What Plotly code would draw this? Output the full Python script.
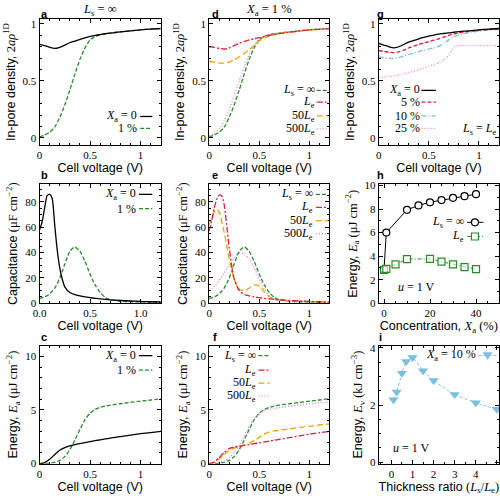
import plotly.graph_objects as go
from plotly.subplots import make_subplots

# ---------------- data ----------------
V = [0, 0.05, 0.1, 0.15, 0.2, 0.25, 0.3, 0.35, 0.4, 0.45, 0.5, 0.55, 0.6, 0.65, 0.7, 0.75, 0.8, 0.9, 1.0, 1.1, 1.2]

dens_a_x0 = [0.82, 0.81, 0.795, 0.785, 0.795, 0.815, 0.835, 0.85, 0.865, 0.878, 0.89, 0.9, 0.907, 0.914, 0.92, 0.925, 0.93, 0.94, 0.948, 0.955, 0.96]
dens_a_x1 = [0.01, 0.025, 0.05, 0.095, 0.18, 0.29, 0.42, 0.56, 0.69, 0.79, 0.86, 0.89, 0.905, 0.914, 0.92, 0.925, 0.93, 0.94, 0.948, 0.955, 0.96]
dens_d_le = [0.80, 0.795, 0.785, 0.78, 0.79, 0.81, 0.83, 0.845, 0.86, 0.87, 0.88, 0.89, 0.9, 0.908, 0.915, 0.922, 0.928, 0.938, 0.947, 0.953, 0.958]
dens_d_50 = [0.675, 0.665, 0.657, 0.657, 0.665, 0.685, 0.71, 0.74, 0.775, 0.81, 0.85, 0.875, 0.893, 0.905, 0.914, 0.921, 0.928, 0.938, 0.947, 0.953, 0.958]
dens_d_500 = [0.02, 0.04, 0.08, 0.15, 0.25, 0.37, 0.5, 0.62, 0.73, 0.81, 0.865, 0.89, 0.905, 0.914, 0.92, 0.925, 0.93, 0.94, 0.948, 0.955, 0.96]
dens_g_0 = [0.83, 0.815, 0.80, 0.79, 0.80, 0.82, 0.84, 0.855, 0.87, 0.882, 0.893, 0.902, 0.91, 0.916, 0.922, 0.927, 0.932, 0.94, 0.948, 0.955, 0.96]
dens_g_5 = [0.765, 0.76, 0.752, 0.748, 0.755, 0.77, 0.79, 0.805, 0.82, 0.833, 0.845, 0.858, 0.87, 0.885, 0.9, 0.913, 0.922, 0.935, 0.945, 0.952, 0.957]
dens_g_10 = [0.71, 0.705, 0.70, 0.697, 0.705, 0.718, 0.732, 0.745, 0.758, 0.77, 0.78, 0.79, 0.805, 0.83, 0.86, 0.89, 0.905, 0.925, 0.937, 0.946, 0.953]
dens_g_25 = [0.53, 0.535, 0.54, 0.545, 0.552, 0.562, 0.574, 0.587, 0.6, 0.614, 0.628, 0.643, 0.66, 0.685, 0.73, 0.795, 0.81, 0.81, 0.81, 0.81, 0.81]

Vc = [0, 0.025, 0.05, 0.075, 0.1, 0.125, 0.15, 0.175, 0.2, 0.225, 0.25, 0.3, 0.35, 0.4, 0.45, 0.5, 0.55, 0.6, 0.65, 0.7, 0.8, 0.9, 1.0, 1.1, 1.2]
cap_x0 = [58, 64, 75, 85, 86, 83, 62, 42, 28, 19, 13, 8.5, 6.8, 5.8, 5.0, 4.4, 3.9, 3.4, 3.0, 2.7, 2.2, 1.8, 1.5, 1.2, 1.0]
cap_x1 = [4, 4.3, 5, 6, 7.5, 9.5, 12, 15.5, 20, 25, 31, 41, 44.5, 41, 33, 23, 14.5, 8.5, 4.5, 2.8, 1.6, 1.2, 1.0, 0.9, 0.8]
cap_le = [57, 65, 75, 82, 85.5, 85, 78, 62, 44, 30, 19, 10, 7, 5.8, 5, 4.4, 3.9, 3.4, 3.0, 2.7, 2.2, 1.8, 1.5, 1.2, 1.0]
cap_50 = [62, 67, 72, 74, 72, 65, 56, 46, 35, 27, 19, 11, 10, 12, 14.5, 13.5, 9, 5, 3.2, 2.5, 2.0, 1.6, 1.3, 1.1, 0.9]
cap_500 = [10, 11.5, 13, 15.5, 18, 21, 24, 27, 30, 33, 36, 39.5, 39, 35, 28, 19, 11, 6, 3.5, 2.5, 1.6, 1.2, 1.0, 0.9, 0.8]

en_x0 = [0, 0.1, 0.4, 0.85, 1.25, 1.5, 1.65, 1.77, 1.87, 1.96, 2.05, 2.14, 2.22, 2.3, 2.38, 2.45, 2.52, 2.66, 2.79, 2.9, 3.0]
en_x1 = [0, 0.01, 0.04, 0.12, 0.3, 0.65, 1.3, 2.2, 3.2, 4.1, 4.7, 5.05, 5.25, 5.37, 5.45, 5.52, 5.58, 5.7, 5.82, 5.93, 6.05]
en_le = [0, 0.15, 0.55, 1.05, 1.4, 1.55, 1.62, 1.7, 1.78, 1.86, 1.94, 2.02, 2.1, 2.18, 2.26, 2.34, 2.42, 2.58, 2.74, 2.88, 3.0]
en_50 = [0, 0.12, 0.45, 0.85, 1.2, 1.45, 1.6, 1.75, 1.92, 2.15, 2.45, 2.75, 2.95, 3.05, 3.12, 3.18, 3.24, 3.36, 3.48, 3.6, 3.7]
en_500 = [0, 0.03, 0.1, 0.25, 0.55, 1.0, 1.7, 2.6, 3.5, 4.2, 4.6, 4.9, 5.05, 5.15, 5.22, 5.28, 5.34, 5.46, 5.57, 5.67, 5.76]

conc_inf = [0, 1, 10, 15, 20, 25, 30, 35, 40]
E_conc_inf = [2.85, 6.0, 7.93, 8.3, 8.57, 8.76, 8.95, 9.09, 9.26]
conc_le = [0, 1, 5, 10, 20, 25, 30, 35, 40]
E_conc_le = [2.84, 2.92, 3.3, 3.75, 3.77, 3.53, 3.3, 3.06, 2.89]

ratio = [0.1, 0.25, 0.5, 0.7, 1.0, 1.5, 2, 3, 4, 5]
E_vol = [2.19, 2.46, 3.11, 3.52, 3.66, 3.2, 2.86, 2.37, 2.08, 1.85]

# ---------------- styles ----------------
BLACK = "#000000"
GREEN = "#2a8a2a"
RED = "#dc1e3c"
ORANGE = "#f0a30a"
PINK = "#e080e0"
CYAN = "#78c0dc"
SERIF = "Liberation Serif"
SANS = "Liberation Sans"

D_GREEN = "4px,2px"
D_RED = "6px,2px,2px,2px"
D_ORANGE = "6px,3px"
D_PINK = "1px,2px"
D_CYAN = "5px,2px,1px,2px"
D_RED5 = "4px,2px"

W, H = 500, 498
cols_px = [(33, 156), (205, 327), (377, 499)]
rows_px = [(14.7, 143), (183.3, 305), (348.3, 469)]

fig = make_subplots(rows=3, cols=3)

def idx(r, c):
    return (r - 1) * 3 + c

def xr(i):
    return "x" if i == 1 else f"x{i}"

def yr(i):
    return "y" if i == 1 else f"y{i}"

def line(x, y, color, dash, r, c, width=1.3):
    fig.add_trace(go.Scatter(x=x, y=y, mode="lines",
                             line=dict(color=color, dash=dash, width=width, shape="spline", smoothing=0.6),
                             showlegend=False, hoverinfo="skip"), row=r, col=c)

# a
line(V, dens_a_x1, GREEN, D_GREEN, 1, 1)
line(V, dens_a_x0, BLACK, "solid", 1, 1)
# d
line(V, dens_a_x1, GREEN, D_GREEN, 1, 2)
line(V, dens_d_500, PINK, D_PINK, 1, 2)
line(V, dens_d_50, ORANGE, D_ORANGE, 1, 2)
line(V, dens_d_le, RED, D_RED, 1, 2)
# g
line(V, dens_g_25, PINK, D_PINK, 1, 3)
line(V, dens_g_10, CYAN, D_CYAN, 1, 3)
line(V, dens_g_5, RED, D_RED5, 1, 3)
line(V, dens_g_0, BLACK, "solid", 1, 3)
# b
line(Vc, cap_x1, GREEN, D_GREEN, 2, 1)
line(Vc, cap_x0, BLACK, "solid", 2, 1)
# e
line(Vc, cap_x1, GREEN, D_GREEN, 2, 2)
line(Vc, cap_500, PINK, D_PINK, 2, 2)
line(Vc, cap_50, ORANGE, D_ORANGE, 2, 2)
line(Vc, cap_le, RED, D_RED, 2, 2)
# c
line(V, en_x1, GREEN, D_GREEN, 3, 1)
line(V, en_x0, BLACK, "solid", 3, 1)
# f
line(V, en_x1, GREEN, D_GREEN, 3, 2)
line(V, en_500, PINK, D_PINK, 3, 2)
line(V, en_50, ORANGE, D_ORANGE, 3, 2)
line(V, en_le, RED, D_RED, 3, 2)
# h
fig.add_trace(go.Scatter(x=conc_inf, y=E_conc_inf, mode="lines+markers",
                         line=dict(color=BLACK, width=1),
                         marker=dict(symbol="circle", size=7, color="white", line=dict(color=BLACK, width=1.2)),
                         showlegend=False, hoverinfo="skip"), row=2, col=3)
fig.add_trace(go.Scatter(x=conc_le, y=E_conc_le, mode="lines+markers",
                         line=dict(color=GREEN, width=1, dash="4px,2px,1px,2px"),
                         marker=dict(symbol="square", size=7, color="rgba(255,255,255,0.6)", line=dict(color=GREEN, width=1.2)),
                         showlegend=False, hoverinfo="skip"), row=2, col=3)
# i
fig.add_trace(go.Scatter(x=ratio, y=E_vol, mode="lines+markers",
                         line=dict(color=CYAN, width=1, dash="3px,2px", shape="spline", smoothing=0.5),
                         marker=dict(symbol="triangle-down", size=9, color=CYAN),
                         showlegend=False, hoverinfo="skip"), row=3, col=3)

# ---------------- axes ----------------
tickfont = dict(family=SERIF, size=11, color="black")
titlefont = dict(family=SANS, size=12.5, color="black")

def style_axes(r, c, xrange, xtickvals, xticktext, xminor, yrange, ytickvals, yticktext, yminor, xtitle, ytitle, ystand=4):
    x0, x1 = cols_px[c - 1]
    y0, y1 = rows_px[r - 1]
    common = dict(showline=True, linecolor="black", linewidth=1, mirror="ticks", ticks="inside",
                  ticklen=4, tickwidth=1, tickcolor="black", showgrid=False, zeroline=False,
                  tickfont=tickfont)
    fig.update_xaxes(domain=[x0 / W, x1 / W], range=xrange, tickvals=xtickvals, ticktext=xticktext,
                     minor=dict(ticks="inside", ticklen=2, dtick=xminor, tickcolor="black", showgrid=False),
                     title=dict(text=xtitle, font=titlefont, standoff=2), row=r, col=c, **common)
    fig.update_yaxes(domain=[1 - y1 / H, 1 - y0 / H], range=yrange, tickvals=ytickvals, ticktext=yticktext,
                     minor=dict(ticks="inside", ticklen=2, dtick=yminor, tickcolor="black", showgrid=False),
                     title=dict(text=ytitle, font=titlefont, standoff=ystand), row=r, col=c, **common)

CV = "Cell voltage (V)"
DENS = "In-pore density, <span style='font-family:Liberation Serif'>2<i>aρ</i><sup>1D</sup></span>"
CAP = "Capacitance <span style='font-family:Liberation Serif'>(μF cm<sup>−2</sup>)</span>"
ENA = "Energy, <span style='font-family:Liberation Serif'><i>E</i><sub>a</sub> (μJ cm<sup>−2</sup>)</span>"
ENV = "Energy, <span style='font-family:Liberation Serif'><i>E</i><sub>v</sub> (kJ cm<sup>−3</sup>)</span>"

vt = [0, 0.5, 1]
vtt = ["0", "0.5", "1"]
for c in (1, 2, 3):
    style_axes(1, c, [0, 1.2], vt, vtt, 0.1, [-0.06, 1.04], [0, 0.5, 1], ["0", "0.5", "1"], 0.1, CV, DENS)
style_axes(2, 1, [0, 1.2], vt, ["0.0", "0.5", "1.0"], 0.1, [0, 94], [0, 20, 40, 60, 80], None, 5, CV, CAP)
style_axes(2, 2, [0, 1.2], vt, vtt, 0.1, [0, 94], [0, 20, 40, 60, 80], None, 5, CV, CAP)
style_axes(3, 1, [0, 1.2], vt, vtt, 0.1, [0, 11], [0, 5, 10], None, 1, CV, ENA)
style_axes(3, 2, [0, 1.2], vt, vtt, 0.1, [0, 11], [0, 5, 10], None, 1, CV, ENA)
style_axes(2, 3, [-2.3, 50], [0, 20, 40], None, 5, [0, 10.1], [0, 2, 4, 6, 8, 10], None, 1,
           "Concentration, <span style='font-family:Liberation Serif'><i>X</i><sub>a</sub> (%)</span>", ENA)
style_axes(3, 3, [-0.6, 5.1], [0, 1, 2, 3, 4, 5], None, 0.5, [-0.05, 4.08], [0, 2, 4], None, 0.5,
           "Thickness ratio <span style='font-family:Liberation Serif'>(<i>L</i><sub>s</sub>/<i>L</i><sub>e</sub>)</span>", ENV)

# ---------------- annotations / legends ----------------
annotations = []
shapes = []

def text(i, x, y, s, xanchor="right", size=12, family=SERIF, yref_paper=False):
    annotations.append(dict(x=x, y=y, xref=xr(i) + " domain",
                            yref="paper" if yref_paper else yr(i) + " domain",
                            text=s, showarrow=False, xanchor=xanchor, yanchor="middle",
                            borderpad=0,
                            font=dict(family=family, size=size, color="black")))

def legend(i, entries, xt, lx0, lx1):
    for s, y, color, dash, width in entries:
        text(i, xt, y, s)
        shapes.append(dict(type="line", xref=xr(i) + " domain", yref=yr(i) + " domain",
                           x0=lx0, x1=lx1, y0=y, y1=y, line=dict(color=color, dash=dash, width=width)))

XA0 = "<i>X</i><sub>a</sub> = 0"
LSI = "<i>L</i><sub>s</sub> = ∞"
LE = "<i>L</i><sub>e</sub>"

# a
legend(idx(1, 1), [(XA0, 0.226, BLACK, "solid", 1.3), ("1 %", 0.132, GREEN, D_GREEN, 1.3)], 0.815, 0.83, 0.93)
# b
legend(idx(2, 1), [(XA0, 0.915, BLACK, "solid", 1.3), ("1 %", 0.795, GREEN, D_GREEN, 1.3)], 0.805, 0.82, 0.93)
# c
legend(idx(3, 1), [(XA0, 0.915, BLACK, "solid", 1.3), ("1 %", 0.793, GREEN, D_GREEN, 1.3)], 0.805, 0.82, 0.93)
# d
legend(idx(1, 2), [(LSI, 0.434, GREEN, D_GREEN, 1.3), (LE, 0.34, RED, D_RED, 1.3),
                   ("50" + LE, 0.231, ORANGE, D_ORANGE, 1.3), ("500" + LE, 0.127, PINK, D_PINK, 1.3)], 0.885, 0.895, 0.985)
# e
legend(idx(2, 2), [(LSI, 0.915, GREEN, D_GREEN, 1.3), (LE, 0.805, RED, D_RED, 1.3),
                   ("50" + LE, 0.695, ORANGE, D_ORANGE, 1.3), ("500" + LE, 0.585, PINK, D_PINK, 1.3)], 0.875, 0.888, 0.99)
# f
legend(idx(3, 2), [(LSI, 0.915, GREEN, D_GREEN, 1.3), (LE, 0.793, RED, D_RED, 1.3),
                   ("50" + LE, 0.682, ORANGE, D_ORANGE, 1.3), ("500" + LE, 0.572, PINK, D_PINK, 1.3)], 0.40, 0.41, 0.505)
# g
legend(idx(1, 3), [(XA0, 0.434, BLACK, "solid", 1.3), ("5 %", 0.34, RED, D_RED5, 1.3),
                   ("10 %", 0.231, CYAN, D_CYAN, 1.3), ("25 %", 0.132, PINK, D_PINK, 1.3)], 0.348, 0.355, 0.475)
text(idx(1, 3), 0.83, 0.13, "<i>L</i><sub>s</sub> = <i>L</i><sub>e</sub>", xanchor="center")

# h legend with markers
ih = idx(2, 3)
legend(ih, [(LSI, 0.68, BLACK, "solid", 1.0), (LE, 0.561, GREEN, "4px,2px,1px,2px", 1.0)], 0.72, 0.735, 0.87)
for y, sym, col in [(0.68, "circle", BLACK), (0.561, "rect", GREEN)]:
    shapes.append(dict(type=sym, xref=xr(ih) + " domain", yref=yr(ih) + " domain",
                       xsizemode="pixel", ysizemode="pixel", xanchor=0.80, yanchor=y,
                       x0=-3.5, x1=3.5, y0=-3.5, y1=3.5, fillcolor="white",
                       line=dict(color=col, width=1.2)))
text(ih, 0.31, 0.137, "<i>u</i> = 1 V", xanchor="center")

# i legend
ii = idx(3, 3)
legend(ii, [("<i>X</i><sub>a</sub> = 10 %", 0.917, CYAN, "3px,2px", 1.0)], 0.816, 0.83, 0.99)
shapes.append(dict(type="path", xref=xr(ii) + " domain", yref=yr(ii) + " domain",
                   xsizemode="pixel", ysizemode="pixel", xanchor=0.905, yanchor=0.917,
                   path="M -4.5 3 L 4.5 3 L 0 -4 Z", fillcolor=CYAN, line=dict(color=CYAN, width=0.5)))
text(ii, 0.27, 0.13, "<i>u</i> = 1 V", xanchor="center")

# panel letters
letters = {(1, 1): "a", (2, 1): "b", (3, 1): "c", (1, 2): "d", (2, 2): "e", (3, 2): "f",
           (1, 3): "g", (2, 3): "h", (3, 3): "i"}
letter_x = {1: 0.04, 2: 0.05, 3: 0.015}
letter_ypx = {1: 9.5, 2: 174, 3: 339.5}
for (r, c), s in letters.items():
    text(idx(r, c), letter_x[c], 1 - letter_ypx[r] / H, "<b>" + s + "</b>", xanchor="center",
         size=11, family=SANS, yref_paper=True)

# panel titles
text(idx(1, 1), 0.5, 1 - 5.5 / H, LSI, xanchor="center", size=12.5, yref_paper=True)
text(idx(1, 2), 0.5, 1 - 5.5 / H, "<i>X</i><sub>a</sub> = 1 %", xanchor="center", size=12.5, yref_paper=True)

fig.update_layout(width=W, height=H, margin=dict(l=0, r=0, t=0, b=0),
                  plot_bgcolor="white", paper_bgcolor="white", showlegend=False,
                  annotations=annotations, shapes=shapes,
                  font=dict(family=SERIF, color="black"))

fig.write_html("out.html", config={"displayModeBar": False, "staticPlot": True},
               post_script="document.body.style.margin='0';document.body.style.overflow='hidden';")
